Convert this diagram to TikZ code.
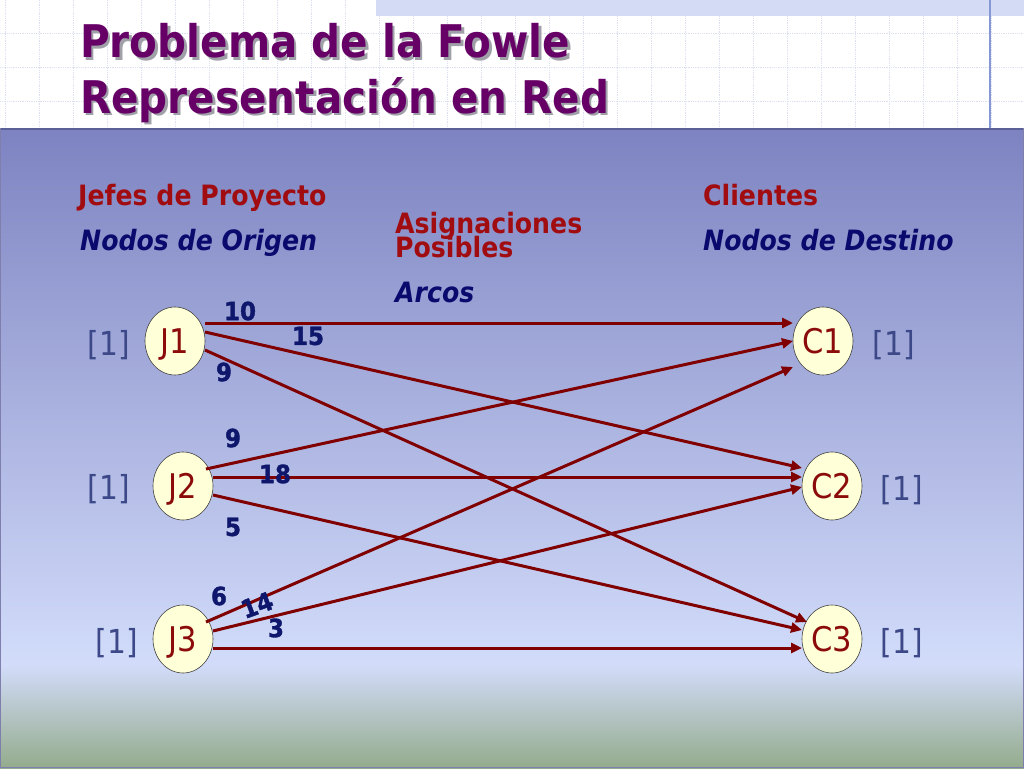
\documentclass[tikz,border=0pt]{standalone}
\usepackage{fontspec}
\setmainfont{DejaVu Sans}[FakeStretch=0.9]
\newfontfamily\costfont{DejaVu Sans Bold}[FakeStretch=0.92,FakeBold=1.4]
\usetikzlibrary{arrows.meta,shapes.geometric}
\definecolor{ttl}{HTML}{660066}
\definecolor{ttlsh}{HTML}{A0A0A8}
\definecolor{hred}{HTML}{A00C10}
\definecolor{navy}{HTML}{0A0A6E}
\definecolor{arc}{HTML}{800000}
\definecolor{brk}{HTML}{3C4888}
\definecolor{ndfill}{HTML}{FFFFD8}
\definecolor{ndtxt}{HTML}{8B0A0A}
\definecolor{lbl}{HTML}{0E176C}
\definecolor{gridc}{HTML}{DCE0F2}
\definecolor{bandc}{HTML}{D3DCF4}
\definecolor{vline}{HTML}{8797D6}
\definecolor{pTop}{HTML}{7D83C1}
\definecolor{pMid}{HTML}{D2DCFA}
\definecolor{pBot}{HTML}{94AB8C}
\definecolor{pEdge}{HTML}{5C6098}
\tikzset{
  ttlstyle/.style={anchor=base west, font=\bfseries\fontsize{45}{45}\selectfont, inner sep=0},
  headred/.style={anchor=base west, text=hred, font=\bfseries\fontsize{28}{28}\selectfont, inner sep=0},
  headblue/.style={anchor=base west, text=navy, font=\bfseries\itshape\fontsize{28}{28}\selectfont, inner sep=0},
  netnode/.style={ellipse, draw=black!75, line width=0.6pt, fill=ndfill, minimum width=60pt, minimum height=68pt, inner sep=0, outer sep=0, text=ndtxt, font=\fontsize{34}{34}\selectfont, text depth=0pt},
  supply/.style={text=brk, font=\fontsize{33}{33}\selectfont, inner sep=0},
  arcline/.style={draw=arc, line width=3pt, -{Triangle[length=11pt,width=10pt]}},
  cost/.style={text=lbl, font=\costfont\fontsize{25}{25}\selectfont, inner sep=0}
}
\begin{document}
\begin{tikzpicture}[x=1pt,y=-1pt]
\useasboundingbox (0,0) rectangle (1024,768);
% top white area with grid
\fill[white] (0,0) rectangle (1024,128);
\foreach \x in {5,39,...,1024} \draw[gridc, densely dotted, line width=0.8pt] (\x,0) -- (\x,128);
\foreach \y in {33,67,101} \draw[gridc, densely dotted, line width=0.8pt] (0,\y) -- (1024,\y);
\fill[bandc] (376,0) rectangle (1024,16);
\draw[vline, line width=1.2pt] (990,0) -- (990,128);
% panel
\shade[top color=pTop, bottom color=pMid] (0,128) rectangle (1024,665);
\shade[top color=pMid, bottom color=pBot] (0,664.5) rectangle (1024,768);
\draw[pEdge, line width=2pt] (0,129) -- (1024,129);
\draw[pEdge!80, line width=1.2pt] (0.6,128) -- (0.6,767.4) -- (1023.4,767.4) -- (1023.4,128);
% title
\node[ttlstyle, text=ttlsh] (t1s) at (82.5,60.5) {Problema de la Fowle};
\node[ttlstyle, text=ttl] (t1) at (80,58) {Problema de la Fowle};
\node[ttlstyle, text=ttlsh] (t2s) at (82.5,115.5) {Representación en Red};
\node[ttlstyle, text=ttl] (t2) at (80,113) {Representación en Red};
% headings
\node[headred] (h1) at (78,205) {Jefes de Proyecto};
\node[headblue] (h2) at (80,250) {Nodos de Origen};
\node[headred] (h3) at (395,233) {Asignaciones};
\node[headred] (h4) at (395,257) {Posibles};
\node[headblue] (h5) at (395,302) {Arcos};
\node[headred] (h6) at (703,205) {Clientes};
\node[headblue] (h7) at (703,250) {Nodos de Destino};
% nodes
\node[netnode] (J1) at (175,341) {J1};
\node[netnode] (J2) at (183,486) {J2};
\node[netnode] (J3) at (183,639) {J3};
\node[netnode] (C1) at (823,341) {C1};
\node[netnode] (C2) at (832,486) {C2};
\node[netnode] (C3) at (832,639) {C3};
\node[supply] (sJ1) at (109,345) {[1]};
\node[supply] (sJ2) at (109,489) {[1]};
\node[supply] (sJ3) at (117,643) {[1]};
\node[supply] (sC1) at (894,345) {[1]};
\node[supply] (sC2) at (902,490) {[1]};
\node[supply] (sC3) at (902,643) {[1]};
% arcs
\draw[arcline] ([yshift=18pt]J1.east) -- ([yshift=18pt]C1.west);
\draw[arcline] ([yshift=9pt]J1.east) -- ([yshift=18pt]C2.west);
\draw[arcline] ([yshift=-9pt]J1.east) -- ([xshift=5pt,yshift=17pt]C3.west);
\draw[arcline] ([xshift=23pt,yshift=17pt]J2.center) -- (C1.west);
\draw[arcline] ([yshift=9pt]J2.east) -- ([yshift=9pt]C2.west);
\draw[arcline] ([yshift=-9pt]J2.east) -- ([yshift=9pt]C3.west);
\draw[arcline] ([xshift=23pt,yshift=17pt]J3.center) -- ([yshift=-26pt]C1.west);
\draw[arcline] ([yshift=8pt]J3.east) -- ([yshift=-1pt]C2.west);
\draw[arcline] ([yshift=-9pt]J3.east) -- ([yshift=-9pt]C3.west);
% costs
\node[cost] (k1) at (240,311) {10};
\node[cost] (k2) at (308,336) {15};
\node[cost] (k3) at (224,372) {9};
\node[cost] (k4) at (233,438) {9};
\node[cost] (k5) at (275,474) {18};
\node[cost] (k6) at (233,527) {5};
\node[cost] (k7) at (219,596) {6};
\node[cost, rotate=20] (k8) at (257,605) {14};
\node[cost] (k9) at (276,628) {3};
\end{tikzpicture}
\end{document}
